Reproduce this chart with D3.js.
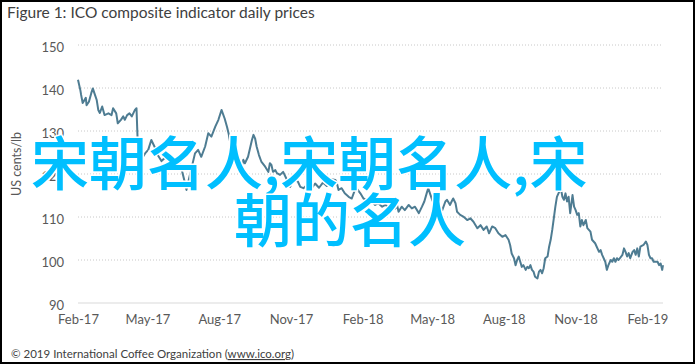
<!DOCTYPE html>
<html>
<head>
<meta charset="utf-8">
<script src="https://cdn.jsdelivr.net/npm/d3@7"></script>
<style>
  html, body { margin: 0; padding: 0; background: #fff; }
  svg { display: block; }
</style>
</head>
<body>
<svg></svg>
<script>
// The svg
let width = 695;
let height = 364;
const svg = d3.select("svg").attr("width", width).attr("height", height);

// Data (days since 1 Feb 2017 / US cents per lb)
const startDate = new Date(2017, 1, 1);
const dayOffsets = [0, 3, 4, 6, 10, 11, 14, 17, 19, 21, 24, 26, 28, 31, 34, 39, 43, 45, 49, 51,
    55, 58, 60, 63, 66, 69, 73, 75, 76, 77, 81, 86, 90, 94, 98, 102, 107, 113, 118, 123,
    128, 133, 137, 139, 143, 150, 154, 158, 163, 167, 171, 176, 180, 184, 188, 191, 193, 195, 197, 201,
    203, 208, 210, 212, 214, 218, 223, 225, 227, 229, 232, 235, 240, 244, 246, 248, 250, 253, 255, 259,
    263, 268, 272, 274, 278, 282, 285, 289, 294, 299, 304, 309, 314, 319, 325, 330, 332, 334, 338, 342,
    347, 351, 355, 357, 362, 366, 370, 372, 377, 381, 385, 390, 394, 398, 402, 407, 409, 411, 415, 419,
    424, 428, 432, 437, 441, 444, 447, 449, 452, 454, 458, 462, 467, 471, 473, 477, 479, 481, 484, 486,
    490, 494, 499, 503, 507, 512, 516, 520, 524, 527, 531, 535, 539, 544, 548, 552, 554, 556, 559, 561,
    563, 565, 567, 569, 571, 574, 576, 578, 580, 582, 584, 586, 589, 591, 593, 595, 597, 599, 602, 604,
    606, 608, 610, 612, 614, 616, 619, 621, 623, 625, 627, 629, 631, 634, 636, 638, 640, 642, 644, 646,
    648, 651, 653, 657, 659, 663, 668, 670, 672, 676, 678, 680, 683, 685, 687, 689, 691, 693, 698, 700,
    702, 704, 706, 708, 711, 713, 715, 717, 719, 721, 725, 728, 730, 732, 734, 736, 738, 743, 745, 747,
    749, 750];
const prices = [141.9, 139.5, 138.4, 136.5, 137.7, 136.0, 136.8, 138.8, 139.9, 138.8, 137.2, 134.9, 134.2, 135.7, 133.7, 134.1, 133.7, 135.3, 134.1, 131.8,
    132.6, 133.4, 132.6, 133.7, 134.1, 133.4, 134.9, 135.3, 130.2, 124.8, 123.3, 124.8, 125.6, 127.9, 126.4, 124.5, 123.0, 124.0, 123.3, 122.0,
    123.5, 121.0, 118.0, 116.3, 119.4, 124.8, 125.6, 124.0, 126.4, 129.5, 128.7, 131.0, 132.6, 134.9, 132.9, 131.0, 129.5, 127.5, 125.6, 124.8,
    123.6, 122.5, 121.7, 123.3, 122.5, 124.0, 127.9, 129.1, 128.3, 126.4, 124.4, 122.9, 121.7, 120.5, 122.5, 122.1, 120.5, 120.9, 120.2, 119.8,
    120.5, 118.6, 117.0, 117.8, 118.6, 118.2, 117.0, 116.7, 117.5, 116.5, 117.8, 116.8, 118.0, 117.2, 118.8, 118.6, 117.8, 116.3, 116.7, 115.5,
    114.7, 114.3, 116.3, 116.7, 115.5, 114.3, 114.0, 113.2, 113.6, 112.8, 113.2, 112.4, 112.8, 112.4, 112.8, 112.0, 112.8, 111.2, 112.4, 111.6,
    112.8, 112.0, 112.4, 110.9, 112.4, 113.6, 115.5, 116.7, 115.1, 114.0, 112.4, 111.2, 111.6, 113.6, 114.0, 112.8, 113.6, 114.3, 113.2, 111.2,
    110.5, 110.1, 109.3, 109.7, 108.9, 107.4, 108.1, 107.0, 107.8, 106.2, 107.8, 107.4, 106.2, 105.4, 105.8, 104.7, 103.5, 101.5, 100.4, 98.8,
    100.0, 100.8, 99.6, 98.4, 98.8, 97.7, 98.4, 98.1, 98.8, 97.7, 97.3, 96.1, 95.7, 97.3, 97.7, 96.9, 98.1, 100.4, 100.8, 103.1,
    104.7, 107.0, 109.7, 112.4, 114.7, 115.5, 116.7, 114.7, 114.0, 115.5, 113.6, 114.7, 110.9, 115.1, 112.4, 111.6, 110.5, 110.9, 107.8, 109.3,
    108.1, 109.3, 107.4, 106.6, 104.7, 103.9, 101.9, 102.3, 101.2, 99.6, 97.7, 98.8, 100.0, 99.6, 100.4, 99.6, 100.4, 100.0, 101.2, 102.7,
    101.9, 100.8, 101.6, 100.4, 101.9, 102.3, 101.2, 102.7, 100.8, 103.1, 103.5, 104.3, 103.5, 101.2, 100.4, 100.4, 99.6, 99.6, 98.8, 99.2,
    97.7, 98.8];
const yTicks = [90, 100, 110, 120, 130, 140, 150];
const xTickMonths = ["2017-02", "2017-05", "2017-08", "2017-11", "2018-02", "2018-05", "2018-08", "2018-11", "2019-02"];

const titleText = "Figure 1: ICO composite indicator daily prices";
const yTitle = "US cents/lb";
const footerText = "\u00a9 2019 International Coffee Organization (";
const footerLink = "www.ico.org";
const overlayLines = ["宋朝名人,宋朝名人,宋", "朝的名人"];

let data = dayOffsets.map(function (d, i) {
    return { date: d3.timeDay.offset(startDate, d), value: prices[i] };
});

const latin = "Lato, 'Open Sans', 'Liberation Sans', sans-serif";

// Scales
let x = d3.scaleTime()
    .domain(d3.extent(data, function (d) { return d.date; }))
    .range([78, 663]);
let y = d3.scaleLinear().domain([90, 150]).range([303, 45]);

svg.append("rect")
    .attr("x", 0).attr("y", 0)
    .attr("width", width).attr("height", height)
    .attr("fill", "#fff");

// gridlines
svg.append("g")
    .selectAll("line")
    .data(yTicks.slice(1))
    .enter()
    .append("line")
    .attr("x1", 78).attr("x2", 663)
    .attr("y1", function (d) { return y(d); })
    .attr("y2", function (d) { return y(d); })
    .attr("stroke", "#c8c8c8")
    .attr("stroke-width", 1)
    .attr("stroke-dasharray", "1,2");

// y axis labels
let yAxis = d3.axisLeft(y).tickValues(yTicks).tickSize(0).tickPadding(0);
let gy = svg.append("g").attr("transform", "translate(64,2)").call(yAxis);
gy.select(".domain").remove();
gy.selectAll("text")
    .style("font-family", latin)
    .style("font-size", "13px")
    .attr("fill", "#595959");

// x axis
let xAxis = d3.axisBottom(x)
    .tickValues(xTickMonths.map(function (m) { return d3.timeParse("%Y-%m")(m); }))
    .tickFormat(d3.timeFormat("%b-%y"))
    .tickSize(0)
    .tickPadding(12);
let gx = svg.append("g").attr("transform", "translate(0,303)").call(xAxis);
gx.select(".domain").attr("stroke", "#d9d9d9").attr("d", "M78,0H663");
gx.selectAll("text")
    .style("font-family", latin)
    .style("font-size", "13px")
    .attr("fill", "#595959");

// the price line
let line = d3.line()
    .x(function (d) { return x(d.date); })
    .y(function (d) { return y(d.value); });

svg.append("path")
    .datum(data)
    .attr("d", line)
    .attr("fill", "none")
    .attr("stroke", "#4e7c92")
    .attr("stroke-width", 2)
    .attr("stroke-linejoin", "round");

// title
svg.append("text")
    .attr("x", 7).attr("y", 18)
    .style("font-family", latin)
    .style("font-size", "15.5px")
    .attr("fill", "#404040")
    .text(titleText);

// y axis title
svg.append("text")
    .attr("transform", "translate(21,164) rotate(-90)")
    .attr("text-anchor", "middle")
    .style("font-family", latin)
    .style("font-size", "12.5px")
    .attr("fill", "#595959")
    .text(yTitle);

// footer
let foot = svg.append("text")
    .attr("x", 11).attr("y", 358)
    .style("font-family", latin)
    .style("font-size", "11.5px")
    .attr("fill", "#404040");
foot.append("tspan").text(footerText);
foot.append("tspan").attr("text-decoration", "underline").style("text-decoration", "underline").text(footerLink);
foot.append("tspan").text(")");

// overlay text
const overlayPos = [[31, 160], [234, 217]];
svg.append("g")
    .selectAll("text")
    .data(overlayLines)
    .enter()
    .append("text")
    .attr("x", function (d, i) { return overlayPos[i][0]; })
    .attr("y", function (d, i) { return overlayPos[i][1]; })
    .attr("dominant-baseline", "central")
    .style("font-family", "'Noto Sans CJK SC', sans-serif")
    .style("font-size", "58px")
    .style("font-weight", 500)
    .attr("fill", "#00bfff")
    .attr("stroke", "#fff")
    .attr("stroke-width", 3)
    .attr("paint-order", "stroke")
    .text(function (d) { return d; });

// border
svg.append("rect")
    .attr("x", 1).attr("y", 1)
    .attr("width", width - 2).attr("height", height - 2)
    .attr("fill", "none")
    .attr("stroke", "#000")
    .attr("stroke-width", 2);
</script>
</body>
</html>
